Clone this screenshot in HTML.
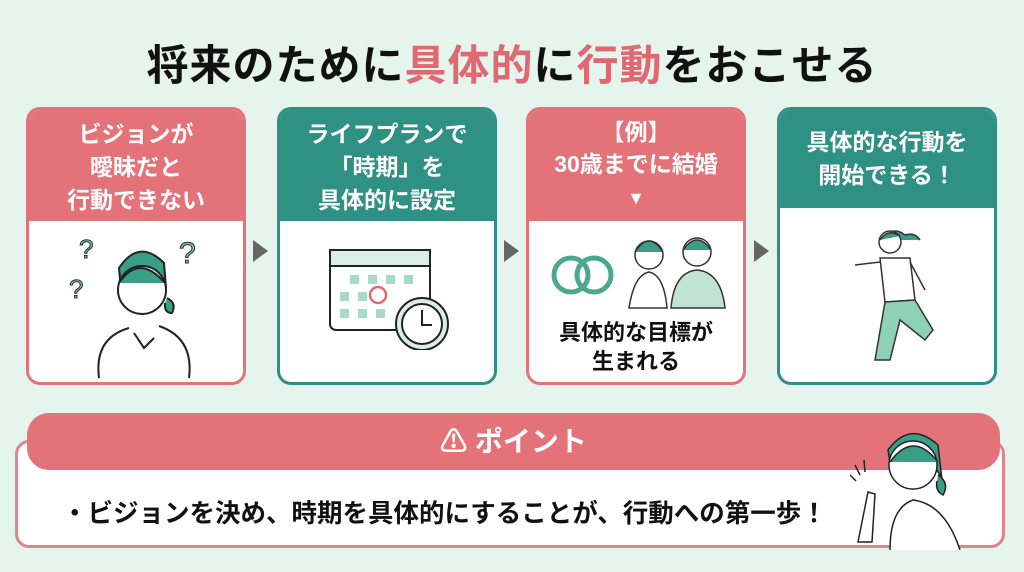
<!DOCTYPE html>
<html><head><meta charset="utf-8"><style>
body{margin:0;width:1024px;height:572px;background:#e5f4ed;font-family:"Liberation Sans","Noto Sans CJK JP",sans-serif;position:relative;overflow:hidden}
.t{position:absolute;top:32px;left:0;width:1024px;text-align:center;font-size:42px;font-weight:bold;color:#111;letter-spacing:1px}
.t span{color:#e06870}
.card{position:absolute;top:107px;width:214px;height:272px;border:3px solid;border-radius:14px;background:#fff;overflow:hidden}
.hd{color:#fff;font-weight:bold;font-size:23px;line-height:33px;text-align:center;padding-top:8px;box-sizing:border-box}
.r{border-color:#e47279}.r .hd{background:#e47279}
.g{border-color:#2f9084}.g .hd{background:#2f9084}
.arr{position:absolute;top:240px;width:0;height:0;border-top:11px solid transparent;border-bottom:11px solid transparent;border-left:15px solid #666}
svg{position:absolute}
</style></head><body>
<div class="t">将来のために<span>具体的</span>に<span>行動</span>をおこせる</div>

<div class="card r" style="left:26px"><div class="hd" style="height:111px">ビジョンが<br>曖昧だと<br>行動できない</div>
<svg style="left:40px;top:118px" width="140" height="150" viewBox="0 0 140 150" fill="none" stroke="#222" stroke-width="2">
<path d="M50 40 Q70 10 95 35 L97 60 Q90 45 70 40 Q55 50 52 62Z" fill="#3a9e86"/>
<circle cx="73" cy="62" r="24" fill="#fff"/><path d="M50 55 Q70 25 96 55" fill="#3a9e86"/>
<path d="M98 70 q10 5 5 15 q-8 0 -7 -10" fill="#3a9e86"/>
<path d="M30 150 Q25 110 60 100 M120 150 Q125 110 90 98 M65 105 l10 15 10-10"/>
<text x="10" y="30" font-size="26" fill="#6cc3a8" stroke="#333" stroke-width="1">?</text>
<text x="110" y="35" font-size="30" fill="#6cc3a8" stroke="#333" stroke-width="1">?</text>
<text x="0" y="70" font-size="26" fill="#6cc3a8" stroke="#333" stroke-width="1">?</text></svg></div>
<div class="arr" style="left:253px"></div>

<div class="card g" style="left:277px"><div class="hd" style="height:111px">ライフプランで<br>「時期」を<br>具体的に設定</div>
<svg style="left:40px;top:130px" width="130" height="110" viewBox="0 0 130 110" stroke="#222" stroke-width="2">
<rect x="10" y="10" width="100" height="80" rx="6" fill="#fff"/><rect x="10" y="10" width="100" height="16" fill="#d8eee6"/>
<g fill="#a9dac8" stroke="none"><rect x="30" y="35" width="9" height="9"/><rect x="48" y="35" width="9" height="9"/><rect x="66" y="35" width="9" height="9"/><rect x="84" y="35" width="9" height="9"/><rect x="20" y="52" width="9" height="9"/><rect x="38" y="52" width="9" height="9"/><rect x="20" y="69" width="9" height="9"/><rect x="38" y="69" width="9" height="9"/><rect x="56" y="69" width="9" height="9"/></g>
<circle cx="58" cy="55" r="8" fill="none" stroke="#e06870" stroke-width="2.5"/>
<circle cx="102" cy="84" r="26" fill="#d8eee6"/><circle cx="102" cy="84" r="20" fill="#fff"/><path d="M102 70v15h10" fill="none"/></svg></div>
<div class="arr" style="left:504px"></div>

<div class="card r" style="left:526px"><div class="hd" style="height:111px;line-height:32px;padding-top:6px">【例】<br>30歳までに結婚<br><span style="font-size:18px">▼</span></div>
<svg style="left:20px;top:120px" width="180" height="80" viewBox="0 0 180 80" stroke="#333" stroke-width="1.5">
<circle cx="22" cy="45" r="17" fill="none" stroke="#4aa88f" stroke-width="5"/><circle cx="45" cy="45" r="17" fill="none" stroke="#4aa88f" stroke-width="5"/>
<circle cx="100" cy="25" r="14" fill="#fff"/><path d="M86 22 Q100 0 114 22" fill="#3a9e86"/><path d="M80 78 Q85 45 100 42 Q115 45 118 78Z" fill="#fff"/>
<circle cx="148" cy="22" r="14" fill="#fff"/><path d="M134 20 Q148 0 162 20" fill="#3a9e86"/><path d="M122 78 Q125 42 148 40 Q172 42 176 78Z" fill="#bfe3d4"/></svg>
<div style="position:absolute;top:208px;width:100%;text-align:center;font-weight:bold;font-size:22px;line-height:29px;color:#111">具体的な目標が<br>生まれる</div></div>
<div class="arr" style="left:754px"></div>

<div class="card g" style="left:777px"><div class="hd" style="height:98px;padding-top:16px">具体的な行動を<br>開始できる！</div>
<svg style="left:50px;top:110px" width="120" height="150" viewBox="0 0 120 150" stroke="#333" stroke-width="1.5">
<path d="M55 20 Q62 5 75 15 Q85 12 90 20" fill="#3a9e86"/><circle cx="60" cy="22" r="11" fill="#fff"/><path d="M50 20 Q58 8 70 16" fill="#3a9e86"/>
<path d="M50 38 L80 38 L85 80 L55 82Z" fill="#fff"/><path d="M50 42 L25 45 M80 42 L95 70" fill="none"/>
<path d="M55 82 L45 140 L60 140 L70 100 L95 120 L103 110 L85 80Z" fill="#8fd0b8"/></svg></div>

<div style="position:absolute;left:15px;top:440px;width:990px;height:108px;border:3px solid #e2858b;border-radius:14px;background:#fff;box-sizing:border-box"></div>
<div style="position:absolute;left:27px;top:413px;width:973px;height:57px;border-radius:22px;background:#e47279;color:#fff;font-weight:bold;font-size:28px;text-align:center;line-height:57px"><span style="font-size:27px">⚠</span> ポイント</div>
<div style="position:absolute;left:62px;top:493px;font-weight:bold;font-size:25.5px;color:#111">・ビジョンを決め、時期を具体的にすることが、行動への第一歩！</div>
<svg style="left:850px;top:420px" width="120" height="130" viewBox="0 0 120 130" stroke="#222" stroke-width="1.5">
<path d="M38 30 Q60 0 88 25 L92 60 Q85 40 62 35 Q45 45 42 55Z" fill="#3a9e86"/><circle cx="63" cy="45" r="24" fill="#fff"/><path d="M40 42 Q63 10 88 42" fill="#3a9e86"/>
<path d="M88 55 q12 8 5 20 q-8-4 -6-14" fill="#3a9e86"/>
<path d="M40 130 Q40 88 63 80 Q95 84 110 130" fill="#fff"/><path d="M8 122 L18 72 L25 74 L22 122Z" fill="#fff"/>
<path d="M0 55 l6 6 M5 45 l5 10 M14 40 l1 12" fill="none"/></svg>
</body></html>
